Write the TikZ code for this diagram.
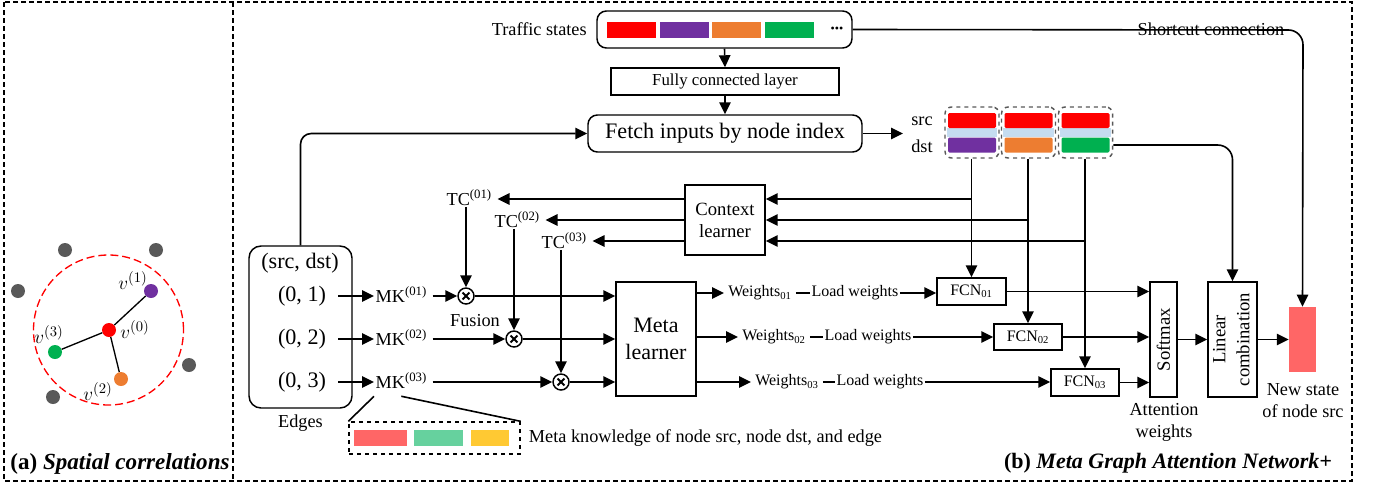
\documentclass[tikz,border=0pt]{standalone}
\usepackage{fontspec}
\setmainfont{Liberation Serif}
\usetikzlibrary{arrows.meta,positioning}

\definecolor{tsred}{RGB}{255,0,0}
\definecolor{tspurple}{RGB}{112,48,160}
\definecolor{tsorange}{RGB}{237,125,49}
\definecolor{tsgreen}{RGB}{0,176,80}
\definecolor{salmon}{RGB}{255,102,102}
\definecolor{mint}{RGB}{102,209,158}
\definecolor{gold}{RGB}{255,201,51}
\definecolor{dotgray}{RGB}{89,89,89}
\definecolor{bandblue}{RGB}{197,220,240}

\tikzstyle{block} = [rectangle, draw, line width=1.1pt, text centered, inner sep=0pt, font=\fontsize{14}{16.5}\selectfont]
\tikzstyle{rblock} = [block, rounded corners=7pt]
\tikzstyle{grp} = [rectangle, draw=dotgray, dashed, line width=1.1pt, rounded corners=5pt, minimum width=40.5pt, minimum height=38.25pt, inner sep=0pt, fill=white]
\tikzstyle{bar} = [rectangle, inner sep=0pt, minimum width=36.75pt, minimum height=12pt]
\tikzstyle{lbl} = [inner sep=1pt, font=\fontsize{13.7}{16}\selectfont]
\tikzstyle{big} = [inner sep=1pt, font=\fontsize{16.6}{19}\selectfont]
\tikzstyle{small} = [inner sep=1.5pt, font=\fontsize{12}{14}\selectfont]
\tikzstyle{wire} = [line width=1.2pt]
\tikzstyle{conn} = [wire, -{Triangle[length=9pt,width=8.5pt]}]
\tikzstyle{fuse} = [circle, draw, line width=1.1pt, minimum size=12pt, inner sep=0pt, fill=white,
  path picture={\draw[line width=1.5pt, shift={(path picture bounding box.center)}] (-2.6pt,-2.6pt) -- (2.6pt,2.6pt) (-2.6pt,2.6pt) -- (2.6pt,-2.6pt);}]
\tikzstyle{dot} = [circle, inner sep=0pt, minimum size=10.5pt]

\begin{document}
\begin{tikzpicture}[x=0.75pt, y=-0.75pt]
\useasboundingbox (0,0) rectangle (1373,489);

% outer frame
\draw[line width=0.8pt, dash pattern=on 4pt off 2pt] (4,2) rectangle (1352,481);
\draw[line width=0.8pt, dash pattern=on 4pt off 2pt] (233,2) -- (233,481);

% (a) spatial correlations
\node[circle, draw=tsred, line width=1pt, dash pattern=on 6pt off 3pt, minimum size=112.5pt] (hood) at (108.5,330) {};
\node[dot, fill=dotgray] (far1) at (65,250) {};
\node[dot, fill=dotgray] (far2) at (156,250) {};
\node[dot, fill=dotgray] (far3) at (18,291) {};
\node[dot, fill=dotgray] (far4) at (189,365) {};
\node[dot, fill=dotgray] (far5) at (53,397) {};
\node[dot, fill=tsred] (v0) at (109,330) {};
\node[dot, fill=tspurple] (v1) at (151,291) {};
\node[dot, fill=tsorange] (v2) at (121,379) {};
\node[dot, fill=tsgreen] (v3) at (55,352) {};
\draw[wire, line width=1pt] (v0) -- (v1);
\draw[wire, line width=1pt] (v0) -- (v2);
\draw[wire, line width=1pt] (v0) -- (v3);
\node[lbl, font=\fontsize{15}{17}\selectfont] (lv0) at (135,330) {$v^{(0)}$};
\node[lbl, font=\fontsize{15}{17}\selectfont] (lv1) at (133,281) {$v^{(1)}$};
\node[lbl, font=\fontsize{15}{17}\selectfont] (lv2) at (98,392) {$v^{(2)}$};
\node[lbl, font=\fontsize{15}{17}\selectfont] (lv3) at (49,335) {$v^{(3)}$};
\node[font=\fontsize{17.3}{20}\selectfont\bfseries] (capa) at (120,464) {(a) \textit{Spatial correlations}};

% (b) inputs
\node[rblock, minimum width=191.25pt, minimum height=27.75pt] (traffic) at (724.5,29.5) {};
\node[bar, fill=tsred] (s1) at (631.5,30) {};
\node[bar, fill=tspurple, right of=s1, node distance=39.5pt] (s2) {};
\node[bar, fill=tsorange, right of=s2, node distance=39.5pt] (s3) {};
\node[bar, fill=tsgreen, right of=s3, node distance=39.5pt] (s4) {};
\node[right of=s4, node distance=35.6pt, inner sep=0pt, font=\fontsize{9}{9}\selectfont] (more) {\textbullet\textbullet\textbullet};
\node[lbl, left=6pt of traffic] (tslbl) {Traffic states};

\node[block, minimum width=171pt, minimum height=20.25pt, font=\fontsize{12.6}{14}\selectfont] (fcl) at (725,81.5) {Fully connected layer};
\node[rblock, minimum width=205.5pt, minimum height=27.75pt, font=\fontsize{16.6}{19}\selectfont] (fetch) at (725,133.5) {Fetch inputs by node index};
\draw[conn] (traffic.south) -- (fcl.north);
\draw[conn] (fcl.south) -- (fetch.north);

% fetched pairs
\node[grp] (grp1) at (972,132.5) {};
\node[grp] (grp2) at (1028.5,132.5) {};
\node[grp] (grp3) at (1085.5,132.5) {};
\node[bar, fill=bandblue, minimum width=38pt, minimum height=7pt] (band1) at (972,132.5) {};
\node[bar, fill=bandblue, minimum width=38pt, minimum height=7pt] (band2) at (1028.5,132.5) {};
\node[bar, fill=bandblue, minimum width=38pt, minimum height=7pt] (band3) at (1085.5,132.5) {};
\node[bar, fill=tsred, minimum width=36pt, minimum height=11.25pt, rounded corners=1pt] (src1) at (972,120.5) {};
\node[bar, fill=tsred, minimum width=36pt, minimum height=11.25pt, rounded corners=1pt] (src2) at (1028.5,120.5) {};
\node[bar, fill=tsred, minimum width=36pt, minimum height=11.25pt, rounded corners=1pt] (src3) at (1085.5,120.5) {};
\node[bar, fill=tspurple, minimum width=36pt, minimum height=11.25pt, rounded corners=1pt] (dst1) at (972,145) {};
\node[bar, fill=tsorange, minimum width=36pt, minimum height=11.25pt, rounded corners=1pt] (dst2) at (1028.5,145) {};
\node[bar, fill=tsgreen, minimum width=36pt, minimum height=11.25pt, rounded corners=1pt] (dst3) at (1085.5,145) {};
\node[lbl] (srclbl) at (922,121) {src};
\node[lbl] (dstlbl) at (922,146) {dst};
\coordinate (fin) at (903,133.5);
\draw[conn] (fetch.east) -- (fin);

% edges and meta knowledge
\node[rblock, minimum width=77.25pt, minimum height=121.5pt, rounded corners=9pt] (edges) at (300.5,327) {};
\node[big] (hdr) at (300,263) {(src, dst)};
\node[big] (e1) at (302,296) {(0, 1)};
\node[big] (e2) at (302,339) {(0, 2)};
\node[big] (e3) at (302,382) {(0, 3)};
\node[lbl, below=3pt of edges] (edgelbl) {Edges};
\draw[conn, rounded corners=8pt] (edges.north) |- (fetch.west);

\node[lbl, anchor=base west] (mk1) at (374,302) {MK\textsuperscript{(01)}};
\node[lbl, anchor=base west] (mk2) at (374,345) {MK\textsuperscript{(02)}};
\node[lbl, anchor=base west] (mk3) at (374,388) {MK\textsuperscript{(03)}};
\draw[conn] ([xshift=8pt]e1.east) -- (e1.east -| mk1.west);
\draw[conn] ([xshift=8pt]e2.east) -- (e2.east -| mk2.west);
\draw[conn] ([xshift=8pt]e3.east) -- (e3.east -| mk3.west);

% context learner and task contexts
\node[block, minimum width=60pt, minimum height=52.5pt, align=center] (ctx) at (725,220) {Context\\learner};
\coordinate (r1) at (725,199);
\coordinate (r2) at (725,220);
\coordinate (r3) at (725,241);
\node[lbl, anchor=base west, inner xsep=4pt] (tc1) at (441,205) {TC\textsuperscript{(01)}};
\node[lbl, anchor=base west, inner xsep=4pt] (tc2) at (489,227) {TC\textsuperscript{(02)}};
\node[lbl, anchor=base west, inner xsep=4pt] (tc3) at (536,248) {TC\textsuperscript{(03)}};
\draw[conn] (ctx.west |- r1) -- (tc1.east |- r1);
\draw[conn] (ctx.west |- r2) -- (tc2.east |- r2);
\draw[conn] (ctx.west |- r3) -- (tc3.east |- r3);

% fusion
\node[fuse] (o1) at (466,296) {};
\node[fuse] (o2) at (514,339) {};
\node[fuse] (o3) at (561,382) {};
\node[lbl] (fusion) at (475,321) {Fusion};
\draw[conn] (o1 |- tc1.south) -- (o1.north);
\draw[conn] (o2 |- tc2.south) -- (o2.north);
\draw[conn] (o3 |- tc3.south) -- (o3.north);
\draw[conn] ([xshift=3pt]mk1.east |- o1) -- (o1.west);
\draw[conn] ([xshift=3pt]mk2.east |- o2) -- (o2.west);
\draw[conn] ([xshift=3pt]mk3.east |- o3) -- (o3.west);

% meta learner
\node[block, minimum width=60pt, minimum height=85.5pt, align=center, font=\fontsize{16.5}{20}\selectfont] (meta) at (656,339) {Meta\\learner};
\draw[conn] (o1.east) -- (meta.west |- o1);
\draw[conn] (o2.east) -- (meta.west |- o2);
\draw[conn] (o3.east) -- (meta.west |- o3);

% weights
\node[small, anchor=west, inner xsep=3pt] (w1) at (724,293) {Weights\textsubscript{01}};
\node[small, anchor=west, inner xsep=3pt] (w2) at (738,337) {Weights\textsubscript{02}};
\node[small, anchor=west, inner xsep=3pt] (w3) at (751,382) {Weights\textsubscript{03}};
\node[small, anchor=west, inner xsep=1pt] (lw1) at (810,293) {Load weights};
\node[small, anchor=west, inner xsep=1pt] (lw2) at (823,337) {Load weights};
\node[small, anchor=west, inner xsep=1pt] (lw3) at (835,382) {Load weights};
\draw[conn] (meta.east |- w1.west) -- (w1.west);
\draw[conn] (meta.east |- w2.west) -- (w2.west);
\draw[conn] (meta.east |- w3.west) -- (w3.west);
\draw[wire] (w1.east) -- (lw1.west);
\draw[wire] (w2.east) -- (lw2.west);
\draw[wire] (w3.east) -- (lw3.west);

% FCNs
\node[block, minimum width=51.75pt, minimum height=20.25pt, font=\fontsize{12}{14}\selectfont] (fcn1) at (971.5,291.5) {FCN\textsubscript{01}};
\node[block, minimum width=51pt, minimum height=19.5pt, font=\fontsize{12}{14}\selectfont] (fcn2) at (1028,337) {FCN\textsubscript{02}};
\node[block, minimum width=51pt, minimum height=20.25pt, font=\fontsize{12}{14}\selectfont] (fcn3) at (1085,382.5) {FCN\textsubscript{03}};
\draw[conn] (lw1.east) -- (lw1.east -| fcn1.west);
\draw[conn] (lw2.east) -- (lw2.east -| fcn2.west);
\draw[conn] (lw3.east) -- (lw3.east -| fcn3.west);
\draw[conn] (grp1.south -| fcn1) -- (fcn1.north);
\draw[conn] (grp2.south -| fcn2) -- (fcn2.north);
\draw[conn] (grp3.south -| fcn3) -- (fcn3.north);
\draw[conn] (fcn1 |- r1) -- (ctx.east |- r1);
\draw[conn] (fcn2 |- r2) -- (ctx.east |- r2);
\draw[conn] (fcn3 |- r3) -- (ctx.east |- r3);

% attention and output
\node[block, minimum width=20.25pt, minimum height=86.25pt] (soft) at (1163.5,339.5) {\rotatebox{90}{Softmax}};
\node[block, minimum width=36.75pt, minimum height=86.25pt, font=\fontsize{14}{18}\selectfont] (lin) at (1232.5,339.5) {\rotatebox{90}{\begin{tabular}{@{}c@{}}Linear\\combination\end{tabular}}};
\node[fill=salmon, minimum width=20.25pt, minimum height=48.75pt, inner sep=0pt] (newst) at (1302.5,339.5) {};
\draw[conn] (fcn1.east) -- (fcn1.east -| soft.west);
\draw[conn] (fcn2.east) -- (fcn2.east -| soft.west);
\draw[conn] (fcn3.east) -- (fcn3.east -| soft.west);
\draw[conn] (soft.east) -- (lin.west);
\draw[conn] (lin.east) -- (newst.west);
\node[lbl, align=center, font=\fontsize{13.7}{17}\selectfont] (attn) at (1164,422.5) {Attention\\weights};
\node[lbl, align=center, font=\fontsize{13.7}{16.5}\selectfont] (newlbl) at (1303,401) {New state\\of node src};
\draw[conn, rounded corners=11pt] ([yshift=-9.4pt]grp3.east) -| (lin.north);

% shortcut
\coordinate (sc) at (1303,30);
\draw[conn, rounded corners=11pt] (traffic.east) -- (sc) -- (newst.north);
\node[lbl] (sclbl) at (1211,29.5) {Shortcut connection};

% meta knowledge legend
\node[rectangle, draw, dashed, line width=1pt, minimum width=128.25pt, minimum height=24pt] (mkbox) at (434.5,438) {};
\node[bar, fill=salmon, minimum width=39.75pt] (k1) at (380.5,438) {};
\node[bar, fill=mint] (k2) at (438.5,438) {};
\node[bar, fill=gold, minimum width=28.5pt] (k3) at (490,438) {};
\node[lbl, right=5pt of mkbox] (mklbl) {Meta knowledge of node src, node dst, and edge};
\draw[wire] ([yshift=-5pt]mk3.south west) -- (mkbox.north west);
\draw[wire] ([yshift=-5pt]mk3.south) -- (mkbox.north east);

\node[font=\fontsize{16.5}{20}\selectfont\bfseries] (capb) at (1168,463) {(b) \textit{Meta Graph Attention Network+}};
\end{tikzpicture}
\end{document}
